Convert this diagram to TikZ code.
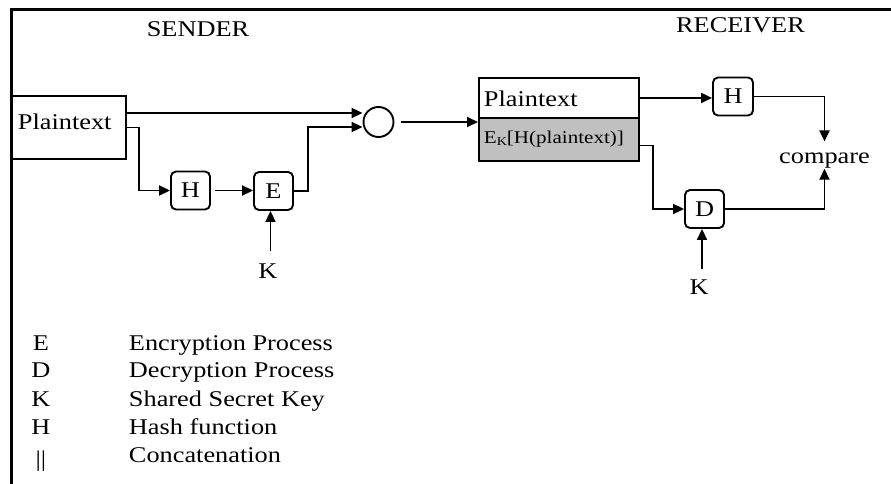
\documentclass[tikz,border=0pt]{standalone}
\usepackage{fontspec}
\setmainfont{Liberation Serif}[FakeStretch=1.17]
\usetikzlibrary{arrows.meta,calc}
\definecolor{silver}{HTML}{C0C0C0}

\begin{document}
\begin{tikzpicture}[x=1pt,y=-1pt,
  line width=1.9pt,
  lbl/.style={font=\fontsize{22.5}{27}\selectfont, inner sep=0pt},
  blk/.style={draw, rounded corners=5pt, minimum width=39pt, minimum height=38pt,
              inner sep=0pt, font=\fontsize{22.5}{27}\selectfont},
  plainbox/.style={draw, inner sep=0pt},
  arr/.style={-{Triangle[length=11pt,width=10pt]}},
]
\useasboundingbox (0,0) rectangle (891,484);

% outer frame (top and left edges)
\draw[line width=3pt] (11,490) -- (11,10) -- (895,10);

% headings
\node[lbl, anchor=base] (sender) at (198,37) {SENDER};
\node[lbl, anchor=base] (receiver) at (740.5,32.5) {RECEIVER};

% ---- sender side ----
\node[plainbox, minimum width=114pt, minimum height=63pt] (src) at (69,127.5) {};
\node[lbl, anchor=base west] (srctxt) at (17,130) {Plaintext};

\node[blk] (hs) at (190.5,190.5) {H};
\node[blk] (es) at (273.5,191) {E};
\node[lbl, anchor=base] (k1) at (268,278) {K};

\node[draw, circle, minimum size=30pt, inner sep=0pt] (join) at (378.5,122) {};

% ---- receiver side ----
\node[plainbox, minimum width=160pt, minimum height=40pt, anchor=north west] (rtop) at (478,77) {};
\node[plainbox, fill=silver, minimum width=160pt, minimum height=43pt, anchor=north west] (rbot) at (478,117) {};
\node[lbl, anchor=base west] (rtoptxt) at (483,107) {Plaintext};
\node[font=\fontsize{18}{22}\selectfont, inner sep=0pt, anchor=base west] (rbottxt) at (483,143)
  {E\raisebox{-2pt}{\fontsize{12}{14}\selectfont K}[H(plaintext)]};

\node[blk, minimum width=40pt] (hr) at (733,96.5) {H};
\node[blk] (ds) at (704.5,209) {D};
\node[lbl, anchor=base] (cmp) at (824.5,163) {compare};
\node[lbl, anchor=base] (k2) at (699,294) {K};

% ---- connectors ----
\draw[arr] ($(src.east)+(0,-14.5)$) -- ($(join.west)+(0,-9)$);
\draw[arr] (src.east) -- ++(12,0) |- (hs.west);
\draw[arr, shorten <=4pt] (hs.east) -- (hs.east -| es.west);
\draw[arr] (es.east) -- ++(14,0) |- ($(join.west)+(0,5)$);
\coordinate (k1top) at ($(k1.north)+(2.5,-11)$);
\draw[arr] (k1top) -- (k1top |- es.south);

\draw[arr, shorten <=7pt] (join.east) -- (join.east -| rbot.west);

\draw[arr] (rtop.east) -- (rtop.east -| hr.west);
\draw[arr] (hr.east) -| ($(cmp.north)+(0,-10)$);
\draw[arr] ($(rbot.east)+(0,6)$) -- ++(13,0) |- (ds.west);
\draw[arr] (ds.east) -| (cmp.south);
\coordinate (k2top) at ($(k2.north)+(3,-9)$);
\draw[arr] (k2top) -- (k2top |- ds.south);

% ---- legend ----
\node[lbl, anchor=base] (lE) at (41,350) {E};
\node[lbl, anchor=base west] (dE) at (128,350) {Encryption Process};
\node[lbl, anchor=base] (lD) at (41,377) {D};
\node[lbl, anchor=base west] (dD) at (128,377) {Decryption Process};
\node[lbl, anchor=base] (lK) at (41,406) {K};
\node[lbl, anchor=base west] (dK) at (128,406) {Shared Secret Key};
\node[lbl, anchor=base] (lH) at (41,434) {H};
\node[lbl, anchor=base west] (dH) at (128,434) {Hash function};
\node[lbl, anchor=base] (lC) at (41,466) {||};
\node[lbl, anchor=base west] (dC) at (128,462) {Concatenation};
\end{tikzpicture}
\end{document}
